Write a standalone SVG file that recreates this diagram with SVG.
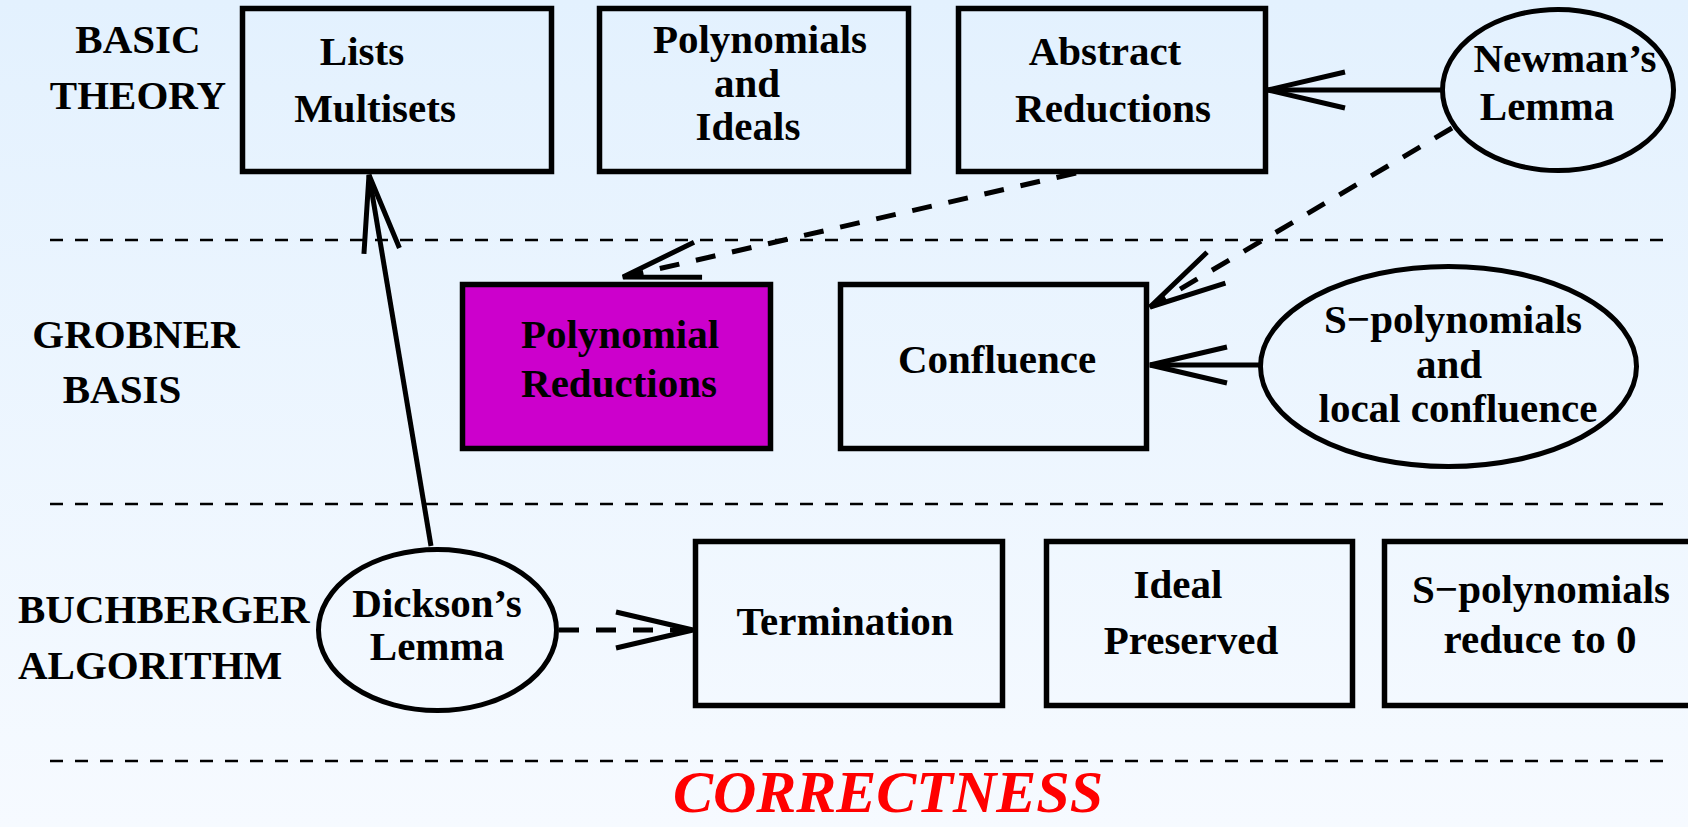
<svg xmlns="http://www.w3.org/2000/svg" width="1688" height="827" viewBox="0 0 1688 827">
<defs>
<linearGradient id="bg" x1="0" y1="0" x2="0" y2="1">
<stop offset="0" stop-color="#E3F1FE"/>
<stop offset="1" stop-color="#F6FAFF"/>
</linearGradient>
<marker id="arr" markerUnits="userSpaceOnUse" orient="auto" refX="0" refY="0" markerWidth="200" markerHeight="200" overflow="visible">
<path d="M-77,-18 L0,0 L-77,18" fill="none" stroke="#000" stroke-width="5"/>
</marker>
</defs>
<style>
.t{font-family:"Liberation Serif","Times New Roman",serif;font-weight:bold;font-size:41px;fill:#000;text-anchor:middle}
.ts{text-anchor:start}
.box{fill:none;stroke:#000;stroke-width:5.5}
.ell{fill:none;stroke:#000;stroke-width:5}
.sep{stroke:#000;stroke-width:2.5;stroke-dasharray:13 12;fill:none}
.c{stroke:#000;stroke-width:5;fill:none;marker-end:url(#arr)}
.d{stroke-dasharray:20 17}
.title{font-family:"Liberation Serif","Times New Roman",serif;font-weight:bold;font-style:italic;font-size:60px;fill:#FF0000;text-anchor:middle}
</style>
<rect x="0" y="0" width="1688" height="827" fill="url(#bg)"/>
<g id="separators">
<line class="sep" x1="50" y1="240" x2="1668" y2="240"/>
<line class="sep" x1="50" y1="504" x2="1668" y2="504"/>
<line class="sep" x1="50" y1="761" x2="1668" y2="761"/>
</g>
<g id="labels">
<text class="t" x="138" y="53">BASIC</text>
<text class="t" x="138" y="109">THEORY</text>
<text class="t" x="136" y="348">GROBNER</text>
<text class="t" x="122" y="403">BASIS</text>
<text class="t ts" x="18" y="623">BUCHBERGER</text>
<text class="t ts" x="18" y="679">ALGORITHM</text>
<text class="title" x="888" y="812">CORRECTNESS</text>
</g>
<g id="lists">
<rect class="box" x="242.5" y="8.5" width="309" height="163"/>
<text class="t" x="362" y="65">Lists</text>
<text class="t" x="375" y="122">Multisets</text>
</g>
<g id="polynomials">
<rect class="box" x="599.5" y="8.5" width="309" height="163"/>
<text class="t" x="760" y="53">Polynomials</text>
<text class="t" x="747" y="97">and</text>
<text class="t" x="748" y="140">Ideals</text>
</g>
<g id="abstract">
<rect class="box" x="958.5" y="8.5" width="307" height="163"/>
<text class="t" x="1105" y="65">Abstract</text>
<text class="t" x="1113" y="122">Reductions</text>
</g>
<g id="newman">
<ellipse class="ell" cx="1558" cy="90" rx="115.5" ry="80.5"/>
<text class="t" x="1565" y="72">Newman’s</text>
<text class="t" x="1547" y="120">Lemma</text>
</g>
<g id="polyred">
<rect x="462.5" y="284.5" width="308" height="164" fill="#CC00CC" stroke="#000" stroke-width="5.5"/>
<text class="t" x="620" y="348">Polynomial</text>
<text class="t" x="619" y="397">Reductions</text>
</g>
<g id="confluence">
<rect class="box" x="840.5" y="284.5" width="306" height="164"/>
<text class="t" x="997" y="373">Confluence</text>
</g>
<g id="spoly">
<ellipse class="ell" cx="1448.5" cy="366.5" rx="188" ry="100"/>
<text class="t" x="1453" y="333">S−polynomials</text>
<text class="t" x="1449" y="378">and</text>
<text class="t" x="1458" y="422">local confluence</text>
</g>
<g id="dickson">
<ellipse class="ell" cx="437.5" cy="630" rx="119" ry="80.5"/>
<text class="t" x="437" y="617">Dickson’s</text>
<text class="t" x="437" y="660">Lemma</text>
</g>
<g id="termination">
<rect class="box" x="695.5" y="541.5" width="307" height="164"/>
<text class="t" x="845" y="635">Termination</text>
</g>
<g id="ideal">
<rect class="box" x="1046.5" y="541.5" width="306" height="164"/>
<text class="t" x="1178" y="598">Ideal</text>
<text class="t" x="1191" y="654">Preserved</text>
</g>
<g id="sreduce">
<rect class="box" x="1384.5" y="541.5" width="320" height="164"/>
<text class="t" x="1541" y="603">S−polynomials</text>
<text class="t" x="1540" y="653">reduce to 0</text>
</g>
<g id="connectors">
<line class="c" x1="1442" y1="90" x2="1268" y2="90"/>
<line class="c d" x1="1452" y1="128" x2="1150" y2="307"/>
<line class="c d" x1="1076" y1="173" x2="623" y2="277"/>
<line class="c" x1="1261" y1="365" x2="1150" y2="365"/>
<line class="c" x1="431" y1="546" x2="369" y2="175"/>
<line class="c d" x1="559" y1="630" x2="693" y2="630"/>
</g>
</svg>
